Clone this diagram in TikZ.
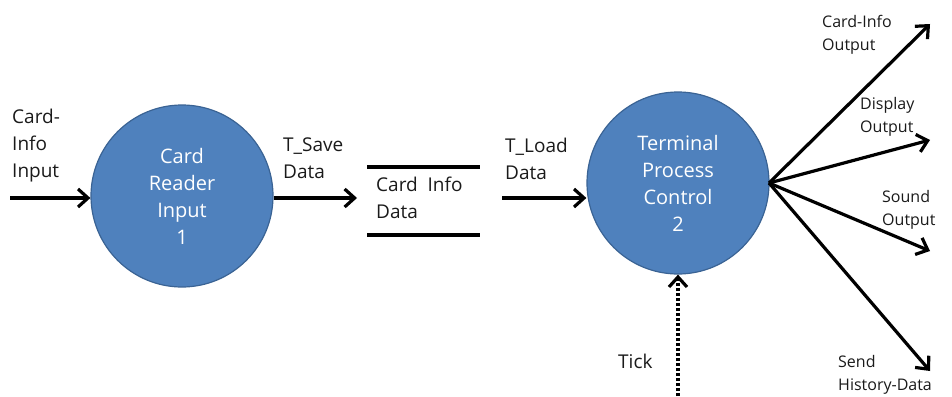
\documentclass[tikz,border=0pt]{standalone}
\usepackage{fontspec}
\setmainfont{Open Sans}
\usetikzlibrary{arrows.meta}
\definecolor{procfill}{HTML}{4F81BD}
\definecolor{procedge}{HTML}{3A6394}
\definecolor{txt}{HTML}{1A1A1A}
\tikzset{
  proc/.style={circle, fill=procfill, draw=procedge, line width=1.2pt, minimum size=182pt, inner sep=0pt,
    text=white, align=center, font=\fontsize{20}{27}\selectfont},
  lbl/.style={text=txt, align=left, inner sep=0pt, font=\fontsize{19}{27}\selectfont},
  slbl/.style={text=txt, align=left, inner sep=0pt, font=\fontsize{16}{23}\selectfont},
  flow/.style={line width=3.2pt, -{Straight Barb[length=10pt,width=18pt,line width=3.2pt]}},
  tickflow/.style={line width=3.2pt, dash pattern=on 2.6pt off 2.4pt, -{Straight Barb[length=10pt,width=18pt,line width=3.2pt]}},
  storeline/.style={line width=3.2pt}
}
\begin{document}
\begin{tikzpicture}[x=1pt,y=-1pt]
\useasboundingbox (0,0) rectangle (952,396);
\node[proc] (p1) at (182,196) {Card\\Reader\\Input\\1};
\node[proc] (p2) at (678,183) {Terminal\\Process\\Control\\2};
% inputs
\coordinate (in1) at (10,198);
\node[lbl, anchor=north west] (l1) at (12,109) {Card-\\Info\\Input};
\draw[flow] (in1) -- (p1.west |- in1);
% store
\coordinate (s1a) at (367,167);
\coordinate (s1b) at (480,167);
\coordinate (s2a) at (367,235);
\coordinate (s2b) at (480,235);
\draw[storeline] (s1a) -- (s1b);
\draw[storeline] (s2a) -- (s2b);
\node[lbl, anchor=north west] (store) at (376,177) {Card~~Info\\Data};
\coordinate (saveend) at (357,198);
\draw[flow] (p1.east |- saveend) -- (saveend);
\node[lbl, anchor=north west] (lsave) at (283,138) {T\_Save\\Data};
\coordinate (loadstart) at (502,198);
\draw[flow] (loadstart) -- (p2.west |- loadstart);
\node[lbl, anchor=north west] (lload) at (505,138) {T\_Load\\Data};
% outputs
\coordinate (o) at (769,183);
\coordinate (e1) at (930,24);
\coordinate (e2) at (930,140);
\coordinate (e3) at (930,251);
\coordinate (e4) at (930,371);
\draw[flow] (o) -- (e1);
\draw[flow] (o) -- (e2);
\draw[flow] (o) -- (e3);
\draw[flow] (o) -- (e4);
\node[slbl, anchor=north west] (lo1) at (822,15) {Card-Info\\Output};
\node[slbl, anchor=north west] (lo2) at (860,97) {Display\\Output};
\node[slbl, anchor=north west] (lo3) at (882,190) {Sound\\Output};
\node[slbl, anchor=north west] (lo4) at (838,355) {Send\\History-Data};
% tick
\coordinate (tk) at (678,396);
\draw[tickflow] (tk) -- (p2.south);
\node[lbl, anchor=north west] (ltick) at (618,354) {Tick};
\end{tikzpicture}
\end{document}
